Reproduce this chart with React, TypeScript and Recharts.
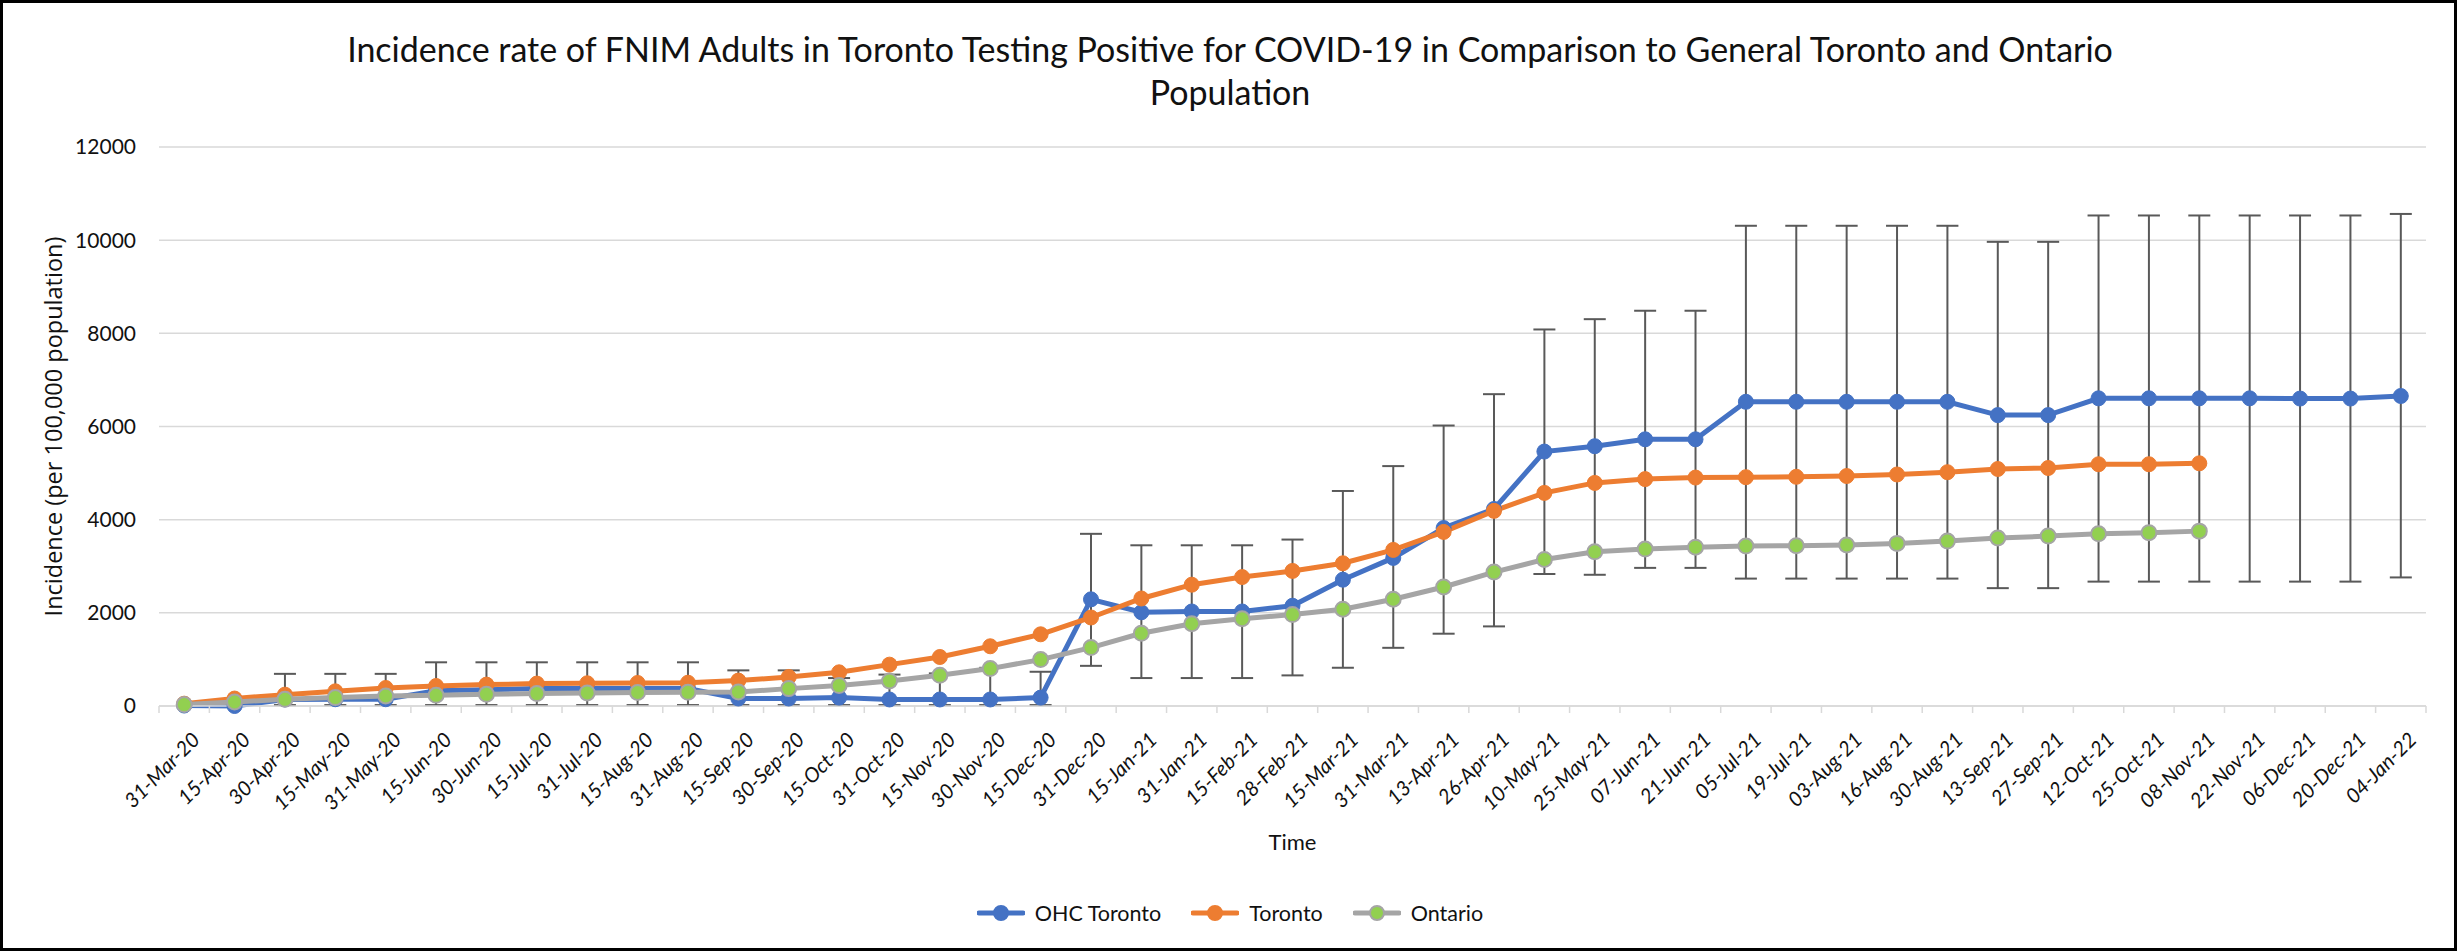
import React from 'react';
import { LineChart, Line, XAxis, YAxis, CartesianGrid, ErrorBar } from 'recharts';

const categories = [
  '31-Mar-20', '15-Apr-20', '30-Apr-20', '15-May-20', '31-May-20', '15-Jun-20', '30-Jun-20', '15-Jul-20',
  '31-Jul-20', '15-Aug-20', '31-Aug-20', '15-Sep-20', '30-Sep-20', '15-Oct-20', '31-Oct-20', '15-Nov-20',
  '30-Nov-20', '15-Dec-20', '31-Dec-20', '15-Jan-21', '31-Jan-21', '15-Feb-21', '28-Feb-21', '15-Mar-21',
  '31-Mar-21', '13-Apr-21', '26-Apr-21', '10-May-21', '25-May-21', '07-Jun-21', '21-Jun-21', '05-Jul-21',
  '19-Jul-21', '03-Aug-21', '16-Aug-21', '30-Aug-21', '13-Sep-21', '27-Sep-21', '12-Oct-21', '25-Oct-21',
  '08-Nov-21', '22-Nov-21', '06-Dec-21', '20-Dec-21', '04-Jan-22',
];

const ohcToronto = [
  10, 0, 140, 145, 145, 330, 350, 375, 375, 375, 375, 160, 160, 180, 140, 140, 140, 180,
  2290, 2012, 2029, 2029, 2152, 2711, 3179, 3820, 4230, 5462, 5577, 5725, 5725,
  6530, 6530, 6530, 6530, 6530, 6245, 6245, 6605, 6605, 6605, 6605, 6600, 6600, 6655,
];

const toronto = [
  50, 160, 244, 315, 387, 430, 459, 481, 488, 495, 500, 545, 623, 723, 888, 1052, 1282, 1539,
  1900, 2308, 2604, 2768, 2900, 3064, 3351, 3737, 4189, 4575, 4789, 4871, 4904,
  4912, 4920, 4937, 4970, 5019, 5088, 5109, 5190, 5190, 5210, null, null, null, null,
];

const ontario = [
  30, 86, 143, 180, 215, 230, 251, 266, 280, 290, 293, 300, 373, 438, 537, 659, 803, 996,
  1254, 1561, 1766, 1873, 1963, 2078, 2292, 2555, 2875, 3146, 3310, 3368, 3409,
  3434, 3442, 3458, 3491, 3540, 3606, 3647, 3696, 3721, 3754, null, null, null, null,
];

const ohcUpper = [
  null, null, 690, 690, 690, 938, 938, 938, 938, 938, 938, 765, 765, 600, 674, 700, 820, 735,
  3696, 3450, 3450, 3450, 3573, 4616, 5150, 6021, 6694, 8083, 8304, 8485, 8485,
  10309, 10309, 10309, 10309, 10309, 9964, 9964, 10530, 10530, 10530, 10530, 10530, 10530, 10563,
];

const ohcLower = [
  null, null, 20, 20, 20, 20, 20, 20, 20, 20, 20, 20, 20, 20, 20, 20, 20, 20,
  862, 600, 600, 600, 657, 821, 1249, 1552, 1709, 2834, 2817, 2965, 2965,
  2735, 2735, 2735, 2735, 2735, 2530, 2530, 2670, 2670, 2670, 2670, 2670, 2670, 2760,
];

const yTicks = [0, 2000, 4000, 6000, 8000, 10000, 12000];

const seriesNames = ['OHC Toronto', 'Toronto', 'Ontario'];
const BLUE = '#4472C4';
const ORANGE = '#ED7D31';
const GRAY = '#A5A5A5';
const GREEN = '#92D050';
const TEXT = '#111111';

const data = categories.map((c, i) => ({
  date: c,
  ohc: ohcToronto[i],
  toronto: toronto[i],
  ontario: ontario[i],
  ohcErr:
    ohcUpper[i] == null || ohcLower[i] == null
      ? null
      : [ohcToronto[i] - (ohcLower[i] as number), (ohcUpper[i] as number) - ohcToronto[i]],
}));

const W = 2460;
const H = 952;
const MARGIN = { top: 147, right: 34, left: 0, bottom: 0 };
const Y_AXIS_W = 159;
const X_AXIS_H = 246;
const PLOT_W = W - MARGIN.left - MARGIN.right - Y_AXIS_W;
const BAND = PLOT_W / categories.length;

const XTick = (props: any) => {
  const { x, y, payload, index } = props;
  const last = index === categories.length - 1;
  return (
    <g>
      <line x1={x - BAND / 2} x2={x - BAND / 2} y1={y} y2={y + 7} stroke="#D9D9D9" strokeWidth={1.5} />
      {last && <line x1={x + BAND / 2} x2={x + BAND / 2} y1={y} y2={y + 7} stroke="#D9D9D9" strokeWidth={1.5} />}
      <text
        x={0}
        y={0}
        transform={`translate(${x + 17},${y + 35}) rotate(-45)`}
        textAnchor="end"
        fontFamily="Lato, 'Open Sans', sans-serif"
        fontStyle="italic"
        fontSize={20.5}
        fill={TEXT}
      >
        {payload.value}
      </text>
    </g>
  );
};

const LegendItem = ({ name, color, fill, last }: { name: string; color: string; fill: string; last?: boolean }) => (
  <div style={{ display: 'flex', alignItems: 'center', marginRight: last ? 0 : 30 }}>
    <svg width={48} height={18} style={{ display: 'block' }}>
      <line x1={2} x2={46} y1={9} y2={9} stroke={color} strokeWidth={5} strokeLinecap="round" />
      <circle cx={24} cy={9} r={7} fill={fill} stroke={color} strokeWidth={2} />
    </svg>
    <span style={{ marginLeft: 10, fontFamily: 'Lato, sans-serif', fontSize: 21.5, color: TEXT }}>{name}</span>
  </div>
);

export default function App() {
  return (
    <div style={{ position: 'absolute', left: 0, top: 0, width: W, height: H, background: '#fff' }}>
      <div
        style={{
          position: 'absolute',
          left: 0,
          top: 0,
          width: W,
          textAlign: 'center',
          fontFamily: 'Lato, sans-serif',
          fontWeight: 400,
          fontSize: 34,
          lineHeight: '43px',
          color: TEXT,
          paddingTop: 27,
        }}
      >
        Incidence rate of FNIM Adults in Toronto Testing Positive for COVID-19 in Comparison to General Toronto and Ontario
        <br />
        Population
      </div>
      <LineChart width={W} height={H} data={data} margin={MARGIN} style={{ position: 'absolute', left: 0, top: 0 }}>
        <CartesianGrid vertical={false} stroke="#D9D9D9" strokeWidth={1.5} />
        <XAxis
          dataKey="date"
          interval={0}
          height={X_AXIS_H}
          padding={{ left: BAND / 2, right: BAND / 2 }}
          tickLine={false}
          tickSize={0}
          tickMargin={0}
          axisLine={{ stroke: '#D9D9D9', strokeWidth: 1.5 }}
          tick={<XTick />}
          label={{
            value: 'Time',
            position: 'insideBottom',
            offset: 102,
            style: { fontFamily: 'Lato, sans-serif', fontSize: 22, fill: TEXT },
          }}
        />
        <YAxis
          width={Y_AXIS_W}
          domain={[0, 12000]}
          ticks={yTicks}
          interval={0}
          axisLine={false}
          tickLine={false}
          tickSize={0}
          tickMargin={23}
          tick={{ fontFamily: 'Lato, sans-serif', fontSize: 21, fill: TEXT }}
          label={{
            value: 'Incidence (per 100,000 population)',
            angle: -90,
            position: 'insideLeft',
            offset: 54,
            style: { textAnchor: 'middle', fontFamily: "'Open Sans', sans-serif", fontSize: 23.5, fill: TEXT },
          }}
        />
        <Line
          dataKey="ohc"
          name={seriesNames[0]}
          stroke={BLUE}
          strokeWidth={5}
          dot={{ r: 7.5, fill: BLUE, stroke: BLUE, strokeWidth: 1 }}
          isAnimationActive={false}
        >
          <ErrorBar dataKey="ohcErr" direction="y" width={11} stroke="#595959" strokeWidth={2} />
        </Line>
        <Line
          dataKey="toronto"
          name={seriesNames[1]}
          stroke={ORANGE}
          strokeWidth={5}
          dot={{ r: 7.5, fill: ORANGE, stroke: ORANGE, strokeWidth: 1 }}
          isAnimationActive={false}
        />
        <Line
          dataKey="ontario"
          name={seriesNames[2]}
          stroke={GRAY}
          strokeWidth={5}
          dot={{ r: 7.5, fill: GREEN, stroke: GRAY, strokeWidth: 2 }}
          isAnimationActive={false}
        />
      </LineChart>
      <div
        style={{
          position: 'absolute',
          left: 0,
          top: 913 - 13,
          width: W,
          display: 'flex',
          justifyContent: 'center',
          alignItems: 'center',
          height: 26,
        }}
      >
        <LegendItem name={seriesNames[0]} color={BLUE} fill={BLUE} />
        <LegendItem name={seriesNames[1]} color={ORANGE} fill={ORANGE} />
        <LegendItem name={seriesNames[2]} color={GRAY} fill={GREEN} last />
      </div>
      <div
        style={{
          position: 'absolute',
          left: 0,
          top: 0,
          width: 2457,
          height: 951,
          boxSizing: 'border-box',
          border: '3px solid #000',
          pointerEvents: 'none',
        }}
      />
    </div>
  );
}
